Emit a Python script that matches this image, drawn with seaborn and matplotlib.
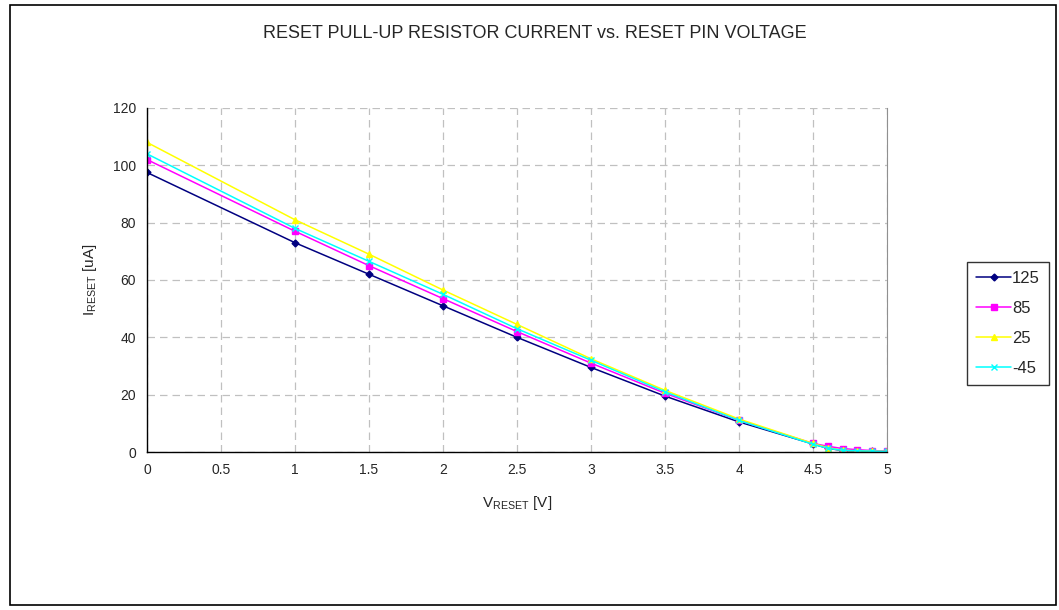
import matplotlib
matplotlib.use("Agg")
import matplotlib.pyplot as plt
import pandas as pd
import seaborn as sns
from matplotlib.patches import Rectangle

# Reset pin voltage (V) and pull-up current (uA) per temperature
voltage = [0, 1, 1.5, 2, 2.5, 3, 3.5, 4, 4.5, 4.6, 4.7, 4.8, 4.9, 5]
temps = ["125", "85", "25", "-45"]
current_125 = [97.5, 73, 62, 51, 40, 29.5, 19.5, 10.5, 2.8, 1.3, 0.5, 0.3, 0.2, 0.1]
current_85 = [102, 77, 65, 53.5, 42, 31, 20.5, 11, 3.0, 2.0, 1.2, 0.8, 0.5, 0.3]
current_25 = [108, 81, 69, 56.5, 44.5, 32.5, 21.5, 11.5, 3.0, 1.5, 0.6, 0.4, 0.3, 0.2]
current_m45 = [104, 78, 66.5, 55, 43, 32, 21, 11, 2.7, 1.3, 0.6, 0.4, 0.3, 0.2]

series = dict(zip(temps, [current_125, current_85, current_25, current_m45]))
df = pd.concat(
    [pd.DataFrame({"V": voltage, "I": vals, "T": t}) for t, vals in series.items()],
    ignore_index=True,
)

sns.set_style("white")
plt.rcParams["font.family"] = ["Liberation Sans", "DejaVu Sans"]
plt.rcParams["mathtext.fontset"] = "custom"
plt.rcParams["mathtext.rm"] = "Liberation Sans"

palette = {"125": "#000080", "85": "#FF00FF", "25": "#FFFF00", "-45": "#00FFFF"}
markers = {"125": "D", "85": "s", "25": "^", "-45": "x"}
msizes = {"125": 3.5, "85": 4.2, "25": 4.5, "-45": 4.5}

fig = plt.figure(figsize=(10.59, 6.10), dpi=100)
ax = fig.add_axes([0.1388, 0.259, 0.6988, 0.564])

for t in temps:
    sub = df[df["T"] == t]
    sns.lineplot(
        data=sub, x="V", y="I", color=palette[t], marker=markers[t],
        markersize=msizes[t], markeredgecolor=palette[t], markeredgewidth=1.0,
        linewidth=1.1, label=t, ax=ax,
    )

ax.set_xlim(0, 5)
ax.set_ylim(0, 120)
ax.set_xticks([0, 0.5, 1, 1.5, 2, 2.5, 3, 3.5, 4, 4.5, 5])
ax.set_xticklabels(["0", "0.5", "1", "1.5", "2", "2.5", "3", "3.5", "4", "4.5", "5"])
ax.set_yticks(range(0, 121, 20))
ax.tick_params(labelsize=10, length=0, pad=8)
ax.grid(True, color="#c0c0c0", linestyle=(0, (6, 4)), linewidth=0.9)

ax.spines["top"].set_visible(False)
ax.spines["right"].set_color("#909090")
ax.spines["left"].set_color("black")
ax.spines["bottom"].set_color("black")
ax.spines["left"].set_linewidth(1.0)
ax.spines["bottom"].set_linewidth(1.0)

ax.set_xlabel(r"V$_{\mathregular{RESET}}$ [V]", fontsize=11, labelpad=12)
ax.set_ylabel(r"I$_{\mathregular{RESET}}$ [uA]", fontsize=11, labelpad=10)

fig.text(0.505, 0.945, "RESET PULL-UP RESISTOR CURRENT vs. RESET PIN VOLTAGE",
         ha="center", va="center", fontsize=13)

leg = ax.legend(
    title=None, loc="upper left", bbox_to_anchor=(0.913, 0.571),
    bbox_transform=fig.transFigure, fontsize=12, frameon=True, fancybox=False,
    edgecolor="black", handlelength=2.1, handletextpad=0.05, borderpad=0.55,
    labelspacing=0.9, borderaxespad=0,
)
leg.get_frame().set_linewidth(1.0)

# outer chart border
fig.patches.append(Rectangle((0.009, 0.008), 0.988, 0.984, transform=fig.transFigure,
                             fill=False, edgecolor="black", linewidth=1.2))

fig.savefig("out.png", dpi=100)
